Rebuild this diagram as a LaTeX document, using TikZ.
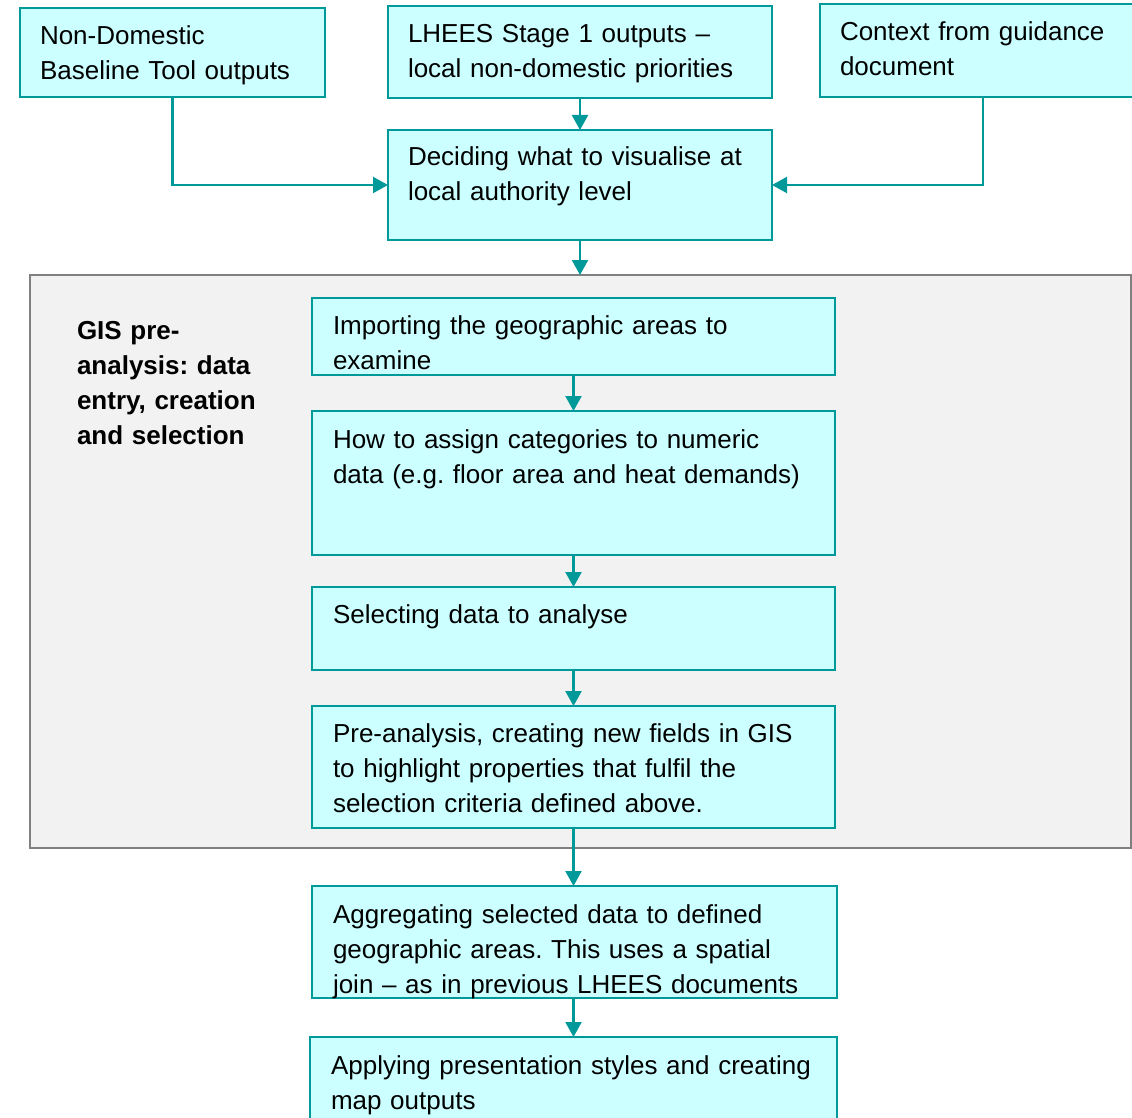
\documentclass[tikz,border=0pt]{standalone}
\usepackage{fontspec}
\setmainfont{Liberation Sans}
\usetikzlibrary{arrows.meta,calc}
\definecolor{tealline}{HTML}{009999}
\definecolor{cyanfill}{HTML}{CCFFFF}
\definecolor{grayfill}{HTML}{F2F2F2}
\definecolor{grayline}{HTML}{808080}
\tikzset{
  box/.style={draw=tealline, fill=cyanfill, line width=2.5pt, rectangle, inner sep=0pt, outer sep=0pt, anchor=north west},
  gisbox/.style={draw=grayline, fill=grayfill, line width=2.5pt, rectangle, inner sep=0pt, outer sep=0pt, anchor=north west},
  txt/.style={anchor=base west, inner sep=0pt, outer sep=0pt, align=left, text width=620pt, font=\fontsize{26}{35}\selectfont\frenchspacing},
  boldtxt/.style={txt, font=\fontsize{26}{35}\selectfont\frenchspacing\bfseries},
  arr/.style={draw=tealline, line width=2.2pt, -{Triangle[length=15pt,width=16pt]}},
}
\begin{document}
\begin{tikzpicture}[x=1pt,y=-1pt]
\useasboundingbox (0,0) rectangle (1132,1118);
\clip (0,0) rectangle (1132,1118);
% top row
\node[box, minimum width=305pt, minimum height=89pt] (ndb) at (20,8) {};
\node[txt] (ndb-t) at (40,44.5) {Non-Domestic\\Baseline Tool outputs};
\node[box, minimum width=384pt, minimum height=92pt] (lh) at (388,6) {};
\node[txt] (lh-t) at (408,42.5) {LHEES Stage 1 outputs –\\local non-domestic priorities};
\node[box, minimum width=326pt, minimum height=93pt] (ctx) at (820,4) {};
\node[txt] (ctx-t) at (840,40.5) {Context from guidance\\document};
% deciding
\node[box, minimum width=384pt, minimum height=110pt] (dec) at (388,130) {};
\node[txt] (dec-t) at (408,165.5) {Deciding what to visualise at\\local authority level};
% GIS container
\node[gisbox, minimum width=1101pt, minimum height=573pt] (gis) at (30,275) {};
\node[boldtxt] (gis-t) at (77,339.5) {GIS pre-\\analysis: data\\entry, creation\\and selection};
% inner steps
\node[box, minimum width=523pt, minimum height=77pt] (imp) at (312,298) {};
\node[txt] (imp-t) at (333,334.5) {Importing the geographic areas to\\examine};
\node[box, minimum width=523pt, minimum height=144pt] (cat) at (312,411) {};
\node[txt] (cat-t) at (333,448.5) {How to assign categories to numeric\\data (e.g. floor area and heat demands)};
\node[box, minimum width=523pt, minimum height=83pt] (sel) at (312,587) {};
\node[txt] (sel-t) at (333,623.5) {Selecting data to analyse};
\node[box, minimum width=523pt, minimum height=122pt] (pre) at (312,706) {};
\node[txt] (pre-t) at (333,742.5) {Pre-analysis, creating new fields in GIS\\to highlight properties that fulfil the\\selection criteria defined above.};
% bottom
\node[box, minimum width=525pt, minimum height=112pt] (agg) at (312,886) {};
\node[txt] (agg-t) at (333,923.5) {Aggregating selected data to defined\\geographic areas. This uses a spatial\\join – as in previous LHEES documents};
\node[box, minimum width=527pt, minimum height=100pt] (app) at (310,1037) {};
\node[txt] (app-t) at (331,1074.5) {Applying presentation styles and creating\\map outputs};
% connectors
\draw[arr] (ndb.south) |- (dec.west);
\draw[arr] (ctx.south) |- (dec.east);
\draw[arr] (lh.south) -- (lh.south |- dec.north);
\draw[arr] (dec.south) -- (dec.south |- gis.north);
\draw[arr] (imp.south) -- (imp.south |- cat.north);
\draw[arr] (cat.south) -- (cat.south |- sel.north);
\draw[arr] (sel.south) -- (sel.south |- pre.north);
\draw[arr] (pre.south) -- (pre.south |- agg.north);
\draw[arr] (app.north |- agg.south) -- (app.north);
\end{tikzpicture}
\end{document}
